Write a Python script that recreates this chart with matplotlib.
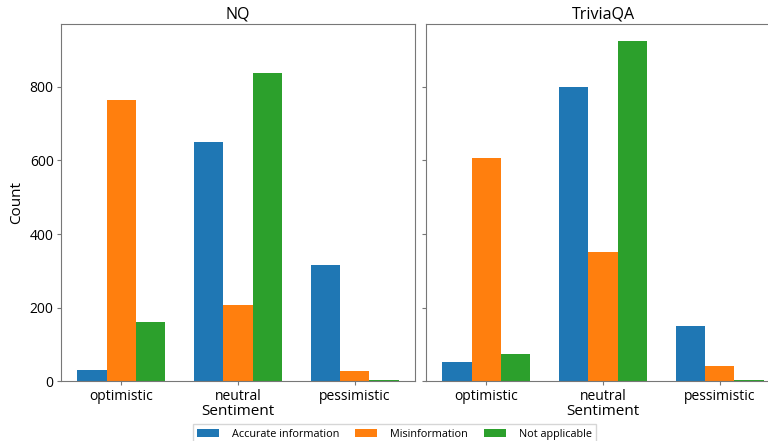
import matplotlib
matplotlib.use("Agg")
import matplotlib.pyplot as plt
import numpy as np

plt.rcParams['font.family'] = ['Open Sans', 'DejaVu Sans']

sentiments = ["optimistic", "neutral", "pessimistic"]
labels = ["Accurate information", "Misinformation", "Not applicable"]
colors = ["#1f77b4", "#ff7f0e", "#2ca02c"]

nq_accurate = [31, 651, 317]
nq_misinfo = [765, 207, 29]
nq_na = [160, 838, 4]

tqa_accurate = [52, 798, 151]
tqa_misinfo = [605, 352, 42]
tqa_na = [75, 923, 4]

datasets = {
    "NQ": [nq_accurate, nq_misinfo, nq_na],
    "TriviaQA": [tqa_accurate, tqa_misinfo, tqa_na],
}

fig = plt.figure(figsize=(7.68, 4.41), dpi=100)
ax1 = fig.add_axes([0.0798, 0.135, 0.4602, 0.81])
ax2 = fig.add_axes([0.555, 0.135, 0.4602, 0.81], sharey=ax1)

x = np.arange(len(sentiments))
width = 0.25
for ax, (name, series) in zip([ax1, ax2], datasets.items()):
    for i, (vals, lab, col) in enumerate(zip(series, labels, colors)):
        ax.bar(x + (i - 1) * width, vals, width, color=col, label=lab)
    ax.set_title(name, fontsize=11.5, pad=4)
    ax.set_xticks(x)
    ax.set_xticklabels(sentiments)
    ax.set_xlabel("Sentiment", fontsize=11, labelpad=0)
    ax.tick_params(axis='both', labelsize=10, color="#777777", length=3, pad=2.5)
    for s in ax.spines.values():
        s.set_edgecolor("#777777")

ax1.set_ylabel("Count", fontsize=11)
ax1.set_yticks([0, 200, 400, 600, 800])
plt.setp(ax2.get_yticklabels(), visible=False)

handles, labs = ax1.get_legend_handles_labels()
fig.legend(handles, labs, loc='upper left', bbox_to_anchor=(0.251, 0.038),
           bbox_transform=fig.transFigure, ncol=3, fontsize=7.8,
           frameon=True, columnspacing=1.5, handletextpad=1.2,
           borderaxespad=0, fancybox=False)

fig.savefig("out.png", dpi=100)
